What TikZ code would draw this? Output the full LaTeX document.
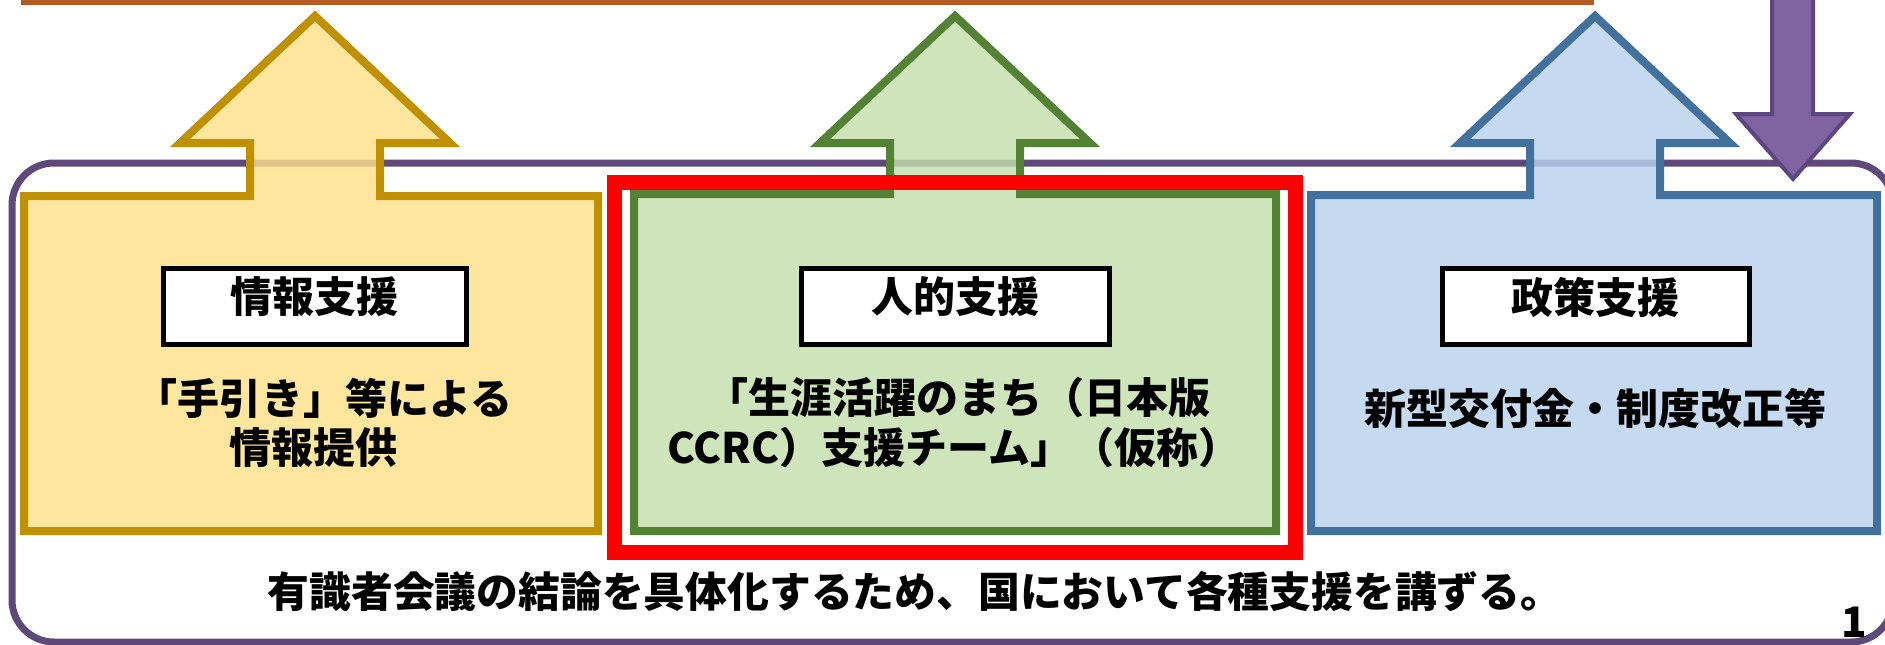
\documentclass[tikz,border=0pt]{standalone}
\usepackage{fontspec}
\newfontfamily\jp{Noto Sans CJK JP}
\definecolor{orangeline}{RGB}{179,92,36}
\definecolor{framepurple}{RGB}{94,73,122}
\definecolor{arrowpurple}{RGB}{128,100,162}
\definecolor{arrowpurpleline}{RGB}{92,70,130}
\definecolor{yfill}{RGB}{255,224,138}
\definecolor{yline}{RGB}{191,144,0}
\definecolor{gfill}{RGB}{195,223,172}
\definecolor{gline}{RGB}{84,130,53}
\definecolor{bfill}{RGB}{184,210,238}
\definecolor{bline}{RGB}{65,113,156}
\tikzset{
  supportshape/.style={line width=8pt, line join=miter, fill opacity=0.82},
  labelbox/.style={draw=black, line width=5pt, fill=white},
  txt/.style={inner sep=0pt, outer sep=0pt, anchor=center, font=\jp\bfseries\fontsize{42}{50}\selectfont},
  labeltxt/.style={inner sep=0pt, outer sep=0pt, anchor=center, font=\jp\bfseries\fontsize{42}{50}\selectfont},
}
\begin{document}
\begin{tikzpicture}[x=1pt,y=-1pt]
\useasboundingbox (0,0) rectangle (1885,645);
% top orange bar
\fill[orangeline] (21,-3) rectangle (1594,4.5);
% purple frame
\draw[framepurple, line width=7pt, rounded corners=42pt] (12,163) rectangle (1893,642);
% yellow arrow box
\draw[supportshape, draw=yline, fill=yfill]
  (24,531) -- (24,196) -- (250,196) -- (250,143) -- (180,143) -- (315,16)
  -- (450,143) -- (380,143) -- (380,196) -- (598,196) -- (598,531) -- cycle;
% green arrow box
\draw[supportshape, draw=gline, fill=gfill]
  (634,531) -- (634,194) -- (890,194) -- (890,143) -- (820,143) -- (955,16)
  -- (1090,143) -- (1020,143) -- (1020,194) -- (1276,194) -- (1276,531) -- cycle;
% blue arrow box
\draw[supportshape, draw=bline, fill=bfill]
  (1311,531) -- (1311,195) -- (1530,195) -- (1530,143) -- (1460,143) -- (1595,16)
  -- (1730,143) -- (1660,143) -- (1660,195) -- (1877,195) -- (1877,531) -- cycle;
% red highlight
\draw[red, line width=15pt] (614,182) rectangle (1295,552);
% purple down arrow
\draw[arrowpurpleline, fill=arrowpurple, line width=4pt, line join=miter]
  (1772,-5) -- (1772,114) -- (1736,114) -- (1793,179) -- (1850,114) -- (1813,114) -- (1813,-5) -- cycle;
% label boxes
\draw[labelbox] (163,268) rectangle (466,344);
\draw[labelbox] (801,268) rectangle (1109,344);
\draw[labelbox] (1442,268) rectangle (1749,344);
\node[labeltxt] (ly) at (314,297) {情報支援};
\node[labeltxt] (lg) at (955,297) {人的支援};
\node[labeltxt] (lb) at (1595,297) {政策支援};
% body texts
\node[txt] (y1) at (324,398) {「手引き」等による};
\node[txt] (y2) at (313,448) {情報提供};
\node[txt] (g1) at (958,398) {「生涯活躍のまち（日本版};
\node[txt] (g2) at (954,448) {CCRC）支援チーム」（仮称）};
\node[txt] (b1) at (1595,408) {新型交付金・制度改正等};
\node[txt, font=\jp\bfseries\fontsize{41.8}{50}\selectfont] (bottom) at (915,592) {有識者会議の結論を具体化するため、国において各種支援を講ずる。};
\node[txt] (pg) at (1854,622) {1};
\end{tikzpicture}
\end{document}
